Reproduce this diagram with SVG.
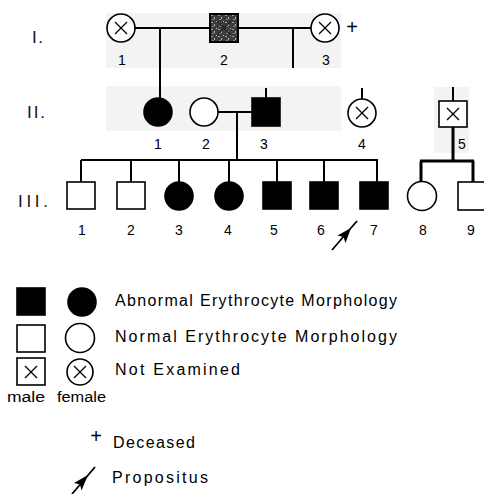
<svg xmlns="http://www.w3.org/2000/svg" width="484" height="494" viewBox="0 0 484 494">
<defs>
<pattern id="mottle" width="7" height="7" patternUnits="userSpaceOnUse">
<rect width="7" height="7" fill="#3c3c3c"/>
<rect x="1" y="1" width="2" height="1" fill="#a0a0a0"/>
<rect x="4" y="3" width="1" height="2" fill="#b4b4b4"/>
<rect x="2" y="5" width="2" height="1" fill="#888"/>
<rect x="6" y="0" width="1" height="1" fill="#c8c8c8"/>
</pattern>
<style>
.ln{stroke:#000;stroke-width:2;fill:none}
.thick{stroke:#000;stroke-width:3;fill:none}
.sym{stroke:#000;stroke-width:1.6;fill:#fff}
.aff{fill:#000;stroke:#000;stroke-width:1.6}
.x{stroke:#000;stroke-width:1.3;fill:none}
.num{font-family:"Liberation Sans",Arial,sans-serif;font-size:14px;text-anchor:middle;fill:#000}
.gen{font-family:"Liberation Sans",Arial,sans-serif;font-size:17px;fill:#111}
.leg{font-family:"Liberation Sans",Arial,sans-serif;font-size:16px;fill:#000}
.small{font-family:"Liberation Sans",Arial,sans-serif;font-size:14px;fill:#000}
.plus{font-family:"Liberation Sans",Arial,sans-serif;font-size:20px;text-anchor:middle;fill:#000}
.shade{fill:#f3f3f3}
</style>
</defs>
<rect width="484" height="494" fill="#fff"/>
<g id="shading">
<rect class="shade" x="106" y="13" width="235" height="55"/>
<rect class="shade" x="106" y="86" width="235" height="45"/>
<rect class="shade" x="434" y="87" width="35" height="66"/>
</g>
<g id="gen-labels">
<text class="gen" x="32" y="43" textLength="11" lengthAdjust="spacing">I.</text>
<text class="gen" x="27" y="118" textLength="18" lengthAdjust="spacing">II.</text>
<text class="gen" x="18" y="207" textLength="30" lengthAdjust="spacing">III.</text>
</g>
<g id="connectors">
<path class="ln" d="M135 28H210M238 28H311"/>
<path class="ln" d="M160 28V98"/>
<path class="ln" d="M293 28V68"/>
<path class="ln" d="M266 88V98M362 88V99M453 87V101"/>
<path class="ln" d="M218 112H252"/>
<path class="ln" d="M237 112V160"/>
<path class="ln" d="M81 160H378"/>
<path class="ln" d="M81 160V182M131 160V182M179 160V182M229 160V182M277 160V182M324 160V182M377 160V182"/>
<path class="thick" d="M453 127V161M420 161H474M421 161V182M473 161V182"/>
</g>
<g id="I-1"><circle class="sym" cx="121" cy="28" r="14"/><path class="x" d="M115 22L127 34M127 22L115 34"/><text class="num" x="122" y="65">1</text></g>
<g id="I-2"><rect x="210" y="14" width="28" height="28" fill="url(#mottle)" stroke="#000" stroke-width="2"/><path d="M217 21L231 35M231 21L217 35" stroke="#222" stroke-width="1.2"/><text class="num" x="224" y="65">2</text></g>
<g id="I-3"><circle class="sym" cx="325" cy="28" r="14"/><path class="x" d="M319 22L331 34M331 22L319 34"/><text class="plus" x="352" y="34">+</text><text class="num" x="326" y="65">3</text></g>
<g id="II-1"><circle class="aff" cx="158" cy="112" r="14"/><text class="num" x="158" y="149">1</text></g>
<g id="II-2"><circle class="sym" cx="204" cy="112" r="14"/><text class="num" x="206" y="149">2</text></g>
<g id="II-3"><rect class="aff" x="252" y="98" width="28" height="28"/><text class="num" x="264" y="149">3</text></g>
<g id="II-4"><circle class="sym" cx="362" cy="113" r="14"/><path class="x" d="M356 107L368 119M368 107L356 119"/><text class="num" x="362" y="149">4</text></g>
<g id="II-5"><rect class="sym" x="439" y="101" width="28" height="26"/><path class="x" d="M447 108L459 120M459 108L447 120"/><text class="num" x="462" y="149">5</text></g>
<g id="III-1"><rect class="sym" x="67" y="182" width="28" height="27"/><text class="num" x="82" y="235">1</text></g>
<g id="III-2"><rect class="sym" x="117" y="182" width="28" height="27"/><text class="num" x="131" y="235">2</text></g>
<g id="III-3"><circle class="aff" cx="179" cy="196" r="14"/><text class="num" x="179" y="235">3</text></g>
<g id="III-4"><circle class="aff" cx="229" cy="196" r="14"/><text class="num" x="228" y="235">4</text></g>
<g id="III-5"><rect class="aff" x="263" y="182" width="28" height="27"/><text class="num" x="274" y="235">5</text></g>
<g id="III-6"><rect class="aff" x="310" y="182" width="28" height="27"/><text class="num" x="321" y="235">6</text></g>
<g id="III-7"><rect class="aff" x="360" y="182" width="28" height="27"/><text class="num" x="374" y="235">7</text>
<path d="M332 250L357 221" stroke="#000" stroke-width="1.8"/><polygon points="351,228 337.5,235.5 343.5,237 345.5,243" fill="#000"/></g>
<g id="III-8"><circle class="sym" cx="422" cy="196" r="14.5"/><text class="num" x="423" y="235">8</text></g>
<g id="III-9"><rect class="sym" x="458" y="182" width="28" height="28"/><text class="num" x="471" y="235">9</text></g>
<g id="legend">
<rect class="aff" x="17" y="288" width="28" height="27"/>
<circle class="aff" cx="82" cy="302" r="14"/>
<text class="leg" x="115" y="306" textLength="282" lengthAdjust="spacing">Abnormal Erythrocyte Morphology</text>
<rect class="sym" x="17" y="325" width="28" height="27"/>
<circle class="sym" cx="80" cy="338" r="14.5"/>
<text class="leg" x="115" y="342" textLength="282" lengthAdjust="spacing">Normal  Erythrocyte Morphology</text>
<rect class="sym" x="17" y="358" width="28" height="27"/>
<path class="x" d="M25 366L37 378M37 366L25 378"/>
<circle class="sym" cx="80" cy="372" r="13"/>
<path class="x" d="M74 366L86 378M86 366L74 378"/>
<text class="leg" x="115" y="375" textLength="125" lengthAdjust="spacing">Not   Examined</text>
<text class="small" x="7" y="402" textLength="38" lengthAdjust="spacingAndGlyphs">male</text>
<text class="small" x="57" y="402" textLength="49" lengthAdjust="spacingAndGlyphs">female</text>
<text class="plus" x="96" y="443">+</text>
<text class="leg" x="113" y="448" textLength="82" lengthAdjust="spacing">Deceased</text>
<path d="M72 494L95 467" stroke="#000" stroke-width="1.8"/>
<polygon points="88,475 74,483 80,484.5 81.5,490.5" fill="#000"/>
<text class="leg" x="112" y="483" textLength="96" lengthAdjust="spacing">Propositus</text>
</g>
</svg>
